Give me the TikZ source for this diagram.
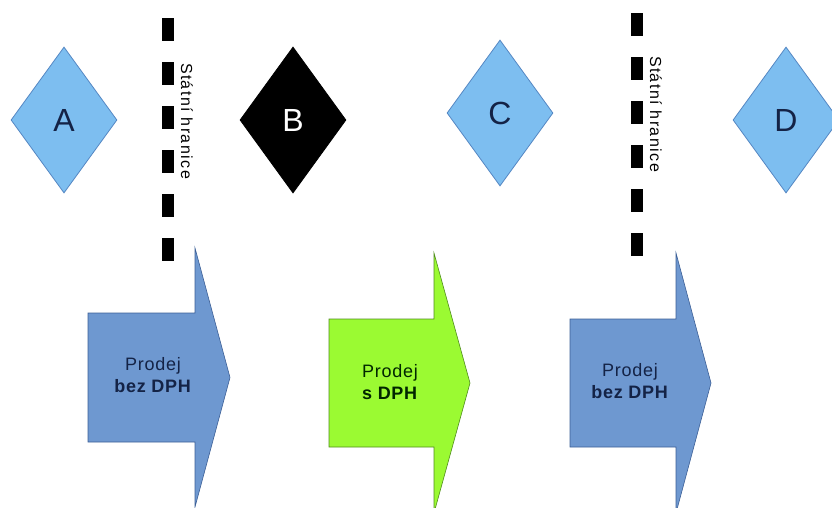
\documentclass[tikz,border=0pt]{standalone}
\usepackage{fontspec}
\setmainfont{Liberation Sans}
\newfontfamily\spacedfont[LetterSpace=9]{Liberation Sans}
\newfontfamily\prodfont[LetterSpace=4]{Liberation Sans}
\usetikzlibrary{shapes.geometric}
\definecolor{dialight}{RGB}{125,190,240}
\definecolor{diaedge}{RGB}{85,135,195}
\definecolor{arrblue}{RGB}{110,152,208}
\definecolor{arredge}{RGB}{60,95,150}
\definecolor{arrgreen}{RGB}{155,250,50}
\definecolor{greenedge}{RGB}{80,140,30}
\definecolor{navy}{RGB}{20,35,70}
\tikzset{
  party/.style={diamond, draw=diaedge, line width=0.8pt, fill=dialight, inner sep=0pt,
    minimum width=106pt, minimum height=146pt, font=\fontsize{32}{32}\selectfont, text=navy},
  border/.style={line width=12pt, dash pattern=on 23pt off 21pt},
  borderlabel/.style={rotate=-90, font=\spacedfont\fontsize{16}{16}\selectfont, text=black},
  bluearrow/.style={fill=arrblue, draw=arredge, line width=0.6pt},
  greenarrow/.style={fill=arrgreen, draw=greenedge, line width=0.6pt},
  saletext/.style={align=center, font=\prodfont\fontsize{18}{22}\selectfont, text=navy}
}
\begin{document}
\begin{tikzpicture}[x=1pt,y=-1pt]
\useasboundingbox (0,0) rectangle (832,507);
% diamonds
\node[party] (A) at (64,120) {A};
\node[party, fill=black, draw=black, text=white] (B) at (293,120) {B};
\node[party] (C) at (500,113) {C};
\node[party] (D) at (786,120) {D};
% borders
\coordinate (b1top) at (167.5,18);
\coordinate (b1bot) at (167.5,262);
\draw[border] (b1top) -- (b1bot);
\node[borderlabel] (l1) at (187,121) {Státní hranice};
\coordinate (b2top) at (636.5,13);
\coordinate (b2bot) at (636.5,257);
\draw[border] (b2top) -- (b2bot);
\node[borderlabel] (l2) at (656,114) {Státní hranice};
% arrows
\begin{scope}
\clip (0,0) rectangle (832,507);
\draw[bluearrow] (88,313) -- (195,313) -- (195,248) -- (230,377.5) -- (195,507) -- (195,442) -- (88,442) -- cycle;
\draw[greenarrow] (329,319) -- (434,319) -- (434,253) -- (470,383) -- (434,513) -- (434,447) -- (329,447) -- cycle;
\draw[bluearrow] (570,319) -- (676,319) -- (676,253) -- (711,383) -- (676,513) -- (676,447) -- (570,447) -- cycle;
\end{scope}
\node[saletext] (s1) at (153,375) {Prodej\\\textbf{bez DPH}};
\node[saletext, text=black!85!green] (s2) at (390,382) {Prodej\\\textbf{s DPH}};
\node[saletext] (s3) at (630,381) {Prodej\\\textbf{bez DPH}};
\end{tikzpicture}
\end{document}
